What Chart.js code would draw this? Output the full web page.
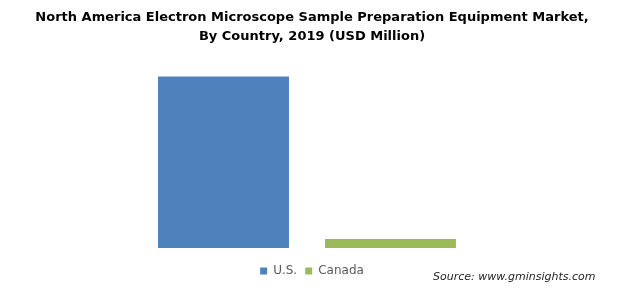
<!DOCTYPE html>
<html>
<head>
<meta charset="utf-8">
<script src="https://cdn.jsdelivr.net/npm/chart.js@4"></script>
<style>
  html, body { margin: 0; padding: 0; background: #fff; }
  #wrap { position: relative; width: 624px; height: 295px; }
  #source {
    position: absolute; left: 433px; top: 270px;
    font: italic 11px "DejaVu Sans", Verdana, sans-serif; color: #262626;
  }
</style>
</head>
<body>
<div id="wrap">
  <canvas id="chart" width="624" height="295"></canvas>
  <div id="source">Source: www.gminsights.com</div>
</div>
<script>
// Market size by country, 2019 (USD Million)
const countries = ['U.S.', 'Canada'];
const marketValues = [95, 5];
const barColors = ['#4F81BD', '#9BBB59'];

// one dataset per country so the legend shows both
const datasets = countries.map((name, i) => ({
    label: name,
    data: countries.map((c, j) => (j === i ? marketValues[i] : null)),
    backgroundColor: barColors[i],
    borderWidth: 0,
    barPercentage: 1,
    categoryPercentage: 0.784,
    skipNull: true
}));

// invisible axis used only to reserve space
const blankAxis = (extra) => Object.assign({
    grid: { display: false },
    border: { display: false },
    ticks: { display: false }
}, extra);

new Chart(document.getElementById('chart').getContext('2d'), {
    type: 'bar',
    data: { labels: countries, datasets: datasets },
    options: {
        responsive: false,
        animation: false,
        layout: { padding: { left: 0, right: 0, top: 0, bottom: 8 } },
        plugins: {
            title: {
                display: true,
                text: ['North America Electron Microscope Sample Preparation Equipment Market,',
                       'By Country, 2019 (USD Million)'],
                font: { family: '"DejaVu Sans", Verdana, sans-serif', size: 13, weight: 'bold', lineHeight: 1.4 },
                color: '#000',
                padding: { top: 9, bottom: 22 }
            },
            legend: {
                position: 'bottom',
                labels: {
                    boxWidth: 7, boxHeight: 7,
                    color: '#595959',
                    font: { family: '"DejaVu Sans", Verdana, sans-serif', size: 12 },
                    padding: 8
                }
            },
            tooltip: { enabled: false }
        },
        scales: {
            x: blankAxis({ stacked: true, afterFit: (a) => { a.height = 9; } }),
            y: blankAxis({ min: 0, max: 100, afterFit: (a) => { a.width = 140; } }),
            yRight: blankAxis({ position: 'right', min: 0, max: 100, afterFit: (a) => { a.width = 150; } })
        }
    }
});
</script>
</body>
</html>
